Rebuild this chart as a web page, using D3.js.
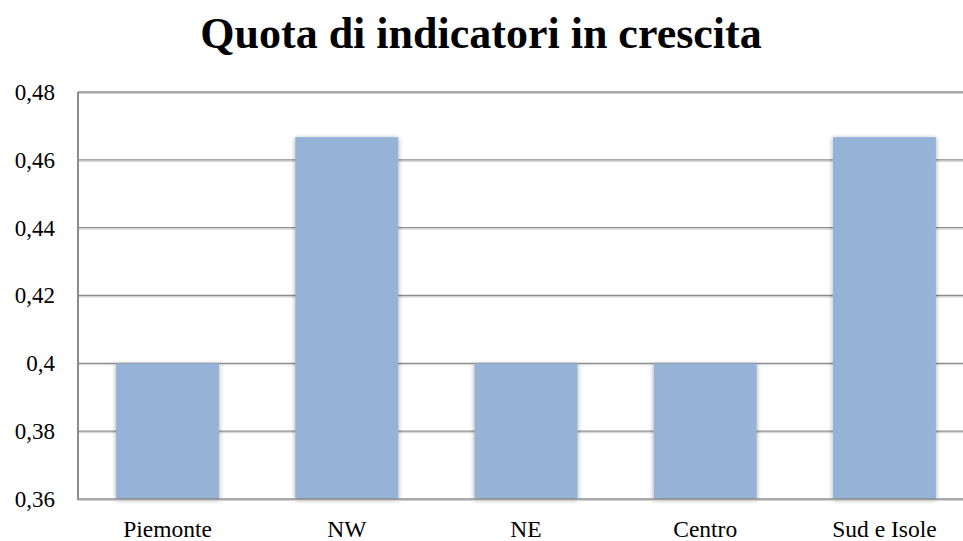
<!DOCTYPE html>
<html>
<head>
<meta charset="utf-8">
<script src="https://cdn.jsdelivr.net/npm/d3@7/dist/d3.min.js"></script>
<style>
  body { margin: 0; background: #fff; }
</style>
</head>
<body>
<svg id="chart" width="963" height="541"></svg>
<script>
var categories = ["Piemonte", "NW", "NE", "Centro", "Sud e Isole"];
var values = [0.4, 0.4667, 0.4, 0.4, 0.4667];
var yTicks = [0.36, 0.38, 0.40, 0.42, 0.44, 0.46, 0.48];
var titleText = "Quota di indicatori in crescita";

var serif = "'Liberation Serif', 'DejaVu Serif', serif";
var svg = d3.select("#chart");
var left = 78, right = 974, plotTop = 92, bottom = 499;

var x = d3.scaleBand().domain(categories).range([left, right]).paddingInner(0.425).paddingOuter(0.2125);
var y = d3.scaleLinear().domain([0.36, 0.48]).range([bottom, plotTop]);

var fmt = function(d) { return (+d.toFixed(2)).toString().replace(".", ","); };

// shadow for the bars
var defs = svg.append("defs");
var f = defs.append("filter").attr("id", "shadow").attr("x", "-20%").attr("y", "-10%").attr("width", "140%").attr("height", "130%");
f.append("feGaussianBlur").attr("in", "SourceAlpha").attr("stdDeviation", 2.5).attr("result", "blur");
f.append("feOffset").attr("in", "blur").attr("dx", 0).attr("dy", 1).attr("result", "off");
f.append("feComponentTransfer").attr("in", "off").attr("result", "soft")
  .append("feFuncA").attr("type", "linear").attr("slope", 0.35);
var m = f.append("feMerge");
m.append("feMergeNode").attr("in", "soft");
m.append("feMergeNode").attr("in", "SourceGraphic");

//title
svg.append("text").attr("x", 481).attr("y", 48).attr("text-anchor", "middle")
  .style("font-family", serif).style("font-size", "44px").style("font-weight", "bold").attr("fill", "#000").text(titleText);

// gridlines (with a faint shadow line under)
svg.append("g").selectAll("line").data(yTicks.slice(1)).enter().append("line")
  .attr("x1", left).attr("x2", 963).attr("y1", function(d){ return y(d) + 1.5; }).attr("y2", function(d){ return y(d) + 1.5; })
  .attr("stroke", "#d0d0d0").attr("stroke-width", 1);
svg.append("g").selectAll("line").data(yTicks.slice(1)).enter().append("line")
  .attr("x1", left).attr("x2", 963).attr("y1", function(d){ return y(d); }).attr("y2", function(d){ return y(d); })
  .attr("stroke", "#8c8c8c").attr("stroke-width", 1.3);

// bars
svg.append("g").selectAll("rect").data(values).enter().append("rect")
  .attr("x", function(d, i){ return x(categories[i]); })
  .attr("width", x.bandwidth())
  .attr("y", function(d){ return y(d); })
  .attr("height", function(d){ return bottom - y(d); })
  .attr("fill", "#95b3d7")
  .attr("filter", "url(#shadow)");

// axes lines
svg.append("line").attr("x1", left).attr("x2", left).attr("y1", plotTop).attr("y2", bottom + 1)
  .attr("stroke", "#8c8c8c").attr("stroke-width", 2);
svg.append("line").attr("x1", left).attr("x2", 963).attr("y1", bottom + 1.5).attr("y2", bottom + 1.5)
  .attr("stroke", "#d0d0d0").attr("stroke-width", 1);
svg.append("line").attr("x1", left).attr("x2", 963).attr("y1", bottom).attr("y2", bottom)
  .attr("stroke", "#8c8c8c").attr("stroke-width", 1.5);

// y axis labels
var yAxis = d3.axisLeft(y).tickValues(yTicks).tickFormat(fmt).tickSize(0).tickPadding(23);
var ga = svg.append("g").attr("transform", "translate(" + left + ",0)").call(yAxis);
ga.select(".domain").remove();
ga.selectAll("text").style("font-family", serif).style("font-size", "23px").attr("fill", "#000").attr("dy", "0.32em");

// x axis labels
var xAxis = d3.axisBottom(x).tickSize(0).tickPadding(21);
var gx = svg.append("g").attr("transform", "translate(0," + bottom + ")").call(xAxis);
gx.select(".domain").remove();
gx.selectAll("text").style("font-family", serif).style("font-size", "23.5px").attr("fill", "#000");
</script>
</body>
</html>
